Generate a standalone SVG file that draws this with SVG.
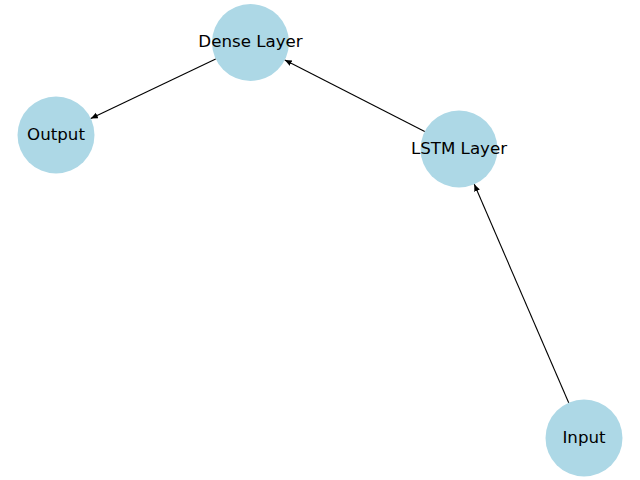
<svg xmlns="http://www.w3.org/2000/svg" width="640" height="480" viewBox="0 0 640 480">
<style>
.node circle{fill:#add8e6;stroke:none}
.node text{font-family:"DejaVu Sans",sans-serif;font-size:16.67px;fill:#000;text-anchor:middle;dominant-baseline:central}
.edges line{stroke:#000;stroke-width:1.1}
</style>
<defs>
<marker id="ah" markerUnits="userSpaceOnUse" markerWidth="10" markerHeight="8" refX="7" refY="3" orient="auto">
<path d="M0,0 L7,3 L0,6 z" fill="#000"/>
</marker>
</defs>
<rect width="640" height="480" fill="#fff"/>
<g id="n-dense" class="node"><circle cx="250.5" cy="42.5" r="38.5"/><text x="250.5" y="41">Dense Layer</text></g>
<g id="n-output" class="node"><circle cx="56" cy="135" r="38.5"/><text x="56" y="134">Output</text></g>
<g id="n-lstm" class="node"><circle cx="459" cy="149" r="38.5"/><text x="459" y="148">LSTM Layer</text></g>
<g id="n-input" class="node"><circle cx="584" cy="438" r="38.5"/><text x="584" y="437">Input</text></g>
<g class="edges" id="edges">
<line x1="215.7" y1="59" x2="90.8" y2="118.5" marker-end="url(#ah)"/>
<line x1="424.7" y1="131.5" x2="284.8" y2="60" marker-end="url(#ah)"/>
<line x1="568.7" y1="402.7" x2="474.3" y2="184.3" marker-end="url(#ah)"/>
</g>
</svg>
